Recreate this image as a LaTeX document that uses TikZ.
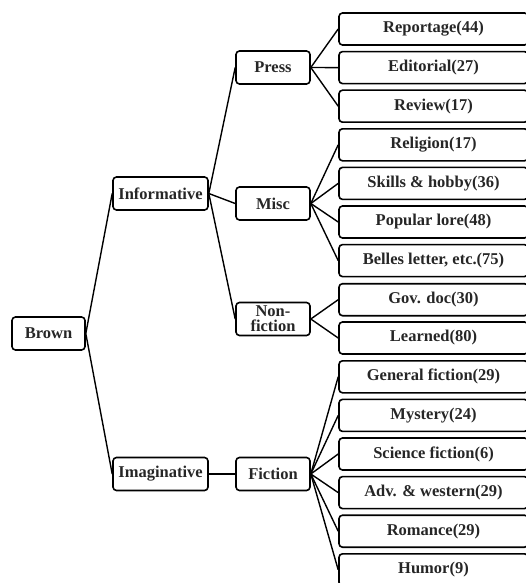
\documentclass[tikz,border=0pt]{standalone}
\usepackage{fontspec}
\setmainfont{Liberation Serif}
\usepackage{tikz}
\usetikzlibrary{positioning}

\begin{document}
\begin{tikzpicture}[x=1pt,y=-1pt,
	box/.style={draw,rounded corners=3.5pt,line width=1.6pt,align=center,
		font=\fontsize{16.5}{15}\selectfont\bfseries,text=black!85,inner sep=1pt},
	rootbox/.style={box,minimum width=73pt,minimum height=33pt},
	topbox/.style={box,minimum width=95pt,minimum height=33pt},
	midbox/.style={box,minimum width=74pt,minimum height=33pt},
	leafbox/.style={box,minimum width=189pt,minimum height=32pt},
	link/.style={draw,line width=1.4pt}]
	\useasboundingbox (0,0) rectangle (526,583);
	% root and first level
	\node[rootbox] (brown) at (48.5,333.5) {Brown};
	\node[topbox] (inform) at (160.5,193.5) {Informative};
	\node[topbox] (imagin) at (160.5,474) {Imaginative};
	% second level
	\node[midbox] (press) at (273,67.5) {Press};
	\node[midbox] (misc) at (273,203.5) {Misc};
	\node[midbox] (nonfic) at (273,319) {Non-\\fiction};
	\node[midbox] (fic) at (273,474) {Fiction};
	% leaves
	\begin{scope}[every node/.style={leafbox}]
		\node (reportage) at (433.5,29) {Reportage(44)};
		\node (editorial) at (433.5,67.6) {Editorial(27)};
		\node (review) at (433.5,106.2) {Review(17)};
		\node (religion) at (433.5,144.8) {Religion(17)};
		\node (skills) at (433.5,183.4) {Skills \& hobby(36)};
		\node (lore) at (433.5,222) {Popular lore(48)};
		\node (belles) at (433.5,260.6) {Belles letter, etc.(75)};
		\node (govdoc) at (433.5,299.7) {Gov. doc(30)};
		\node (learned) at (433.5,338) {Learned(80)};
		\node (general) at (433.5,376.8) {General fiction(29)};
		\node (mystery) at (433.5,415.4) {Mystery(24)};
		\node (science) at (433.5,454) {Science fiction(6)};
		\node (adv) at (433.5,492.6) {Adv. \& western(29)};
		\node (romance) at (433.5,531.2) {Romance(29)};
		\node (humor) at (433.5,569.8) {Humor(9)};
	\end{scope}
	% connectors
	\path[link] (brown.east) -- (inform.west);
	\path[link] (brown.east) -- (imagin.west);
	\path[link] (inform.east) -- (press.west);
	\path[link] (inform.east) -- (misc.west);
	\path[link] (inform.east) -- (nonfic.west);
	\path[link] (imagin.east) -- (fic.west);
	\path[link] (press.east) -- (reportage.west);
	\path[link] (press.east) -- (editorial.west);
	\path[link] (press.east) -- (review.west);
	\path[link] (misc.east) -- (religion.west);
	\path[link] (misc.east) -- (skills.west);
	\path[link] (misc.east) -- (lore.west);
	\path[link] (misc.east) -- (belles.west);
	\path[link] (nonfic.east) -- (govdoc.west);
	\path[link] (nonfic.east) -- (learned.west);
	\path[link] (fic.east) -- (general.west);
	\path[link] (fic.east) -- (mystery.west);
	\path[link] (fic.east) -- (science.west);
	\path[link] (fic.east) -- (adv.west);
	\path[link] (fic.east) -- (romance.west);
	\path[link] (fic.east) -- (humor.west);
\end{tikzpicture}
\end{document}
